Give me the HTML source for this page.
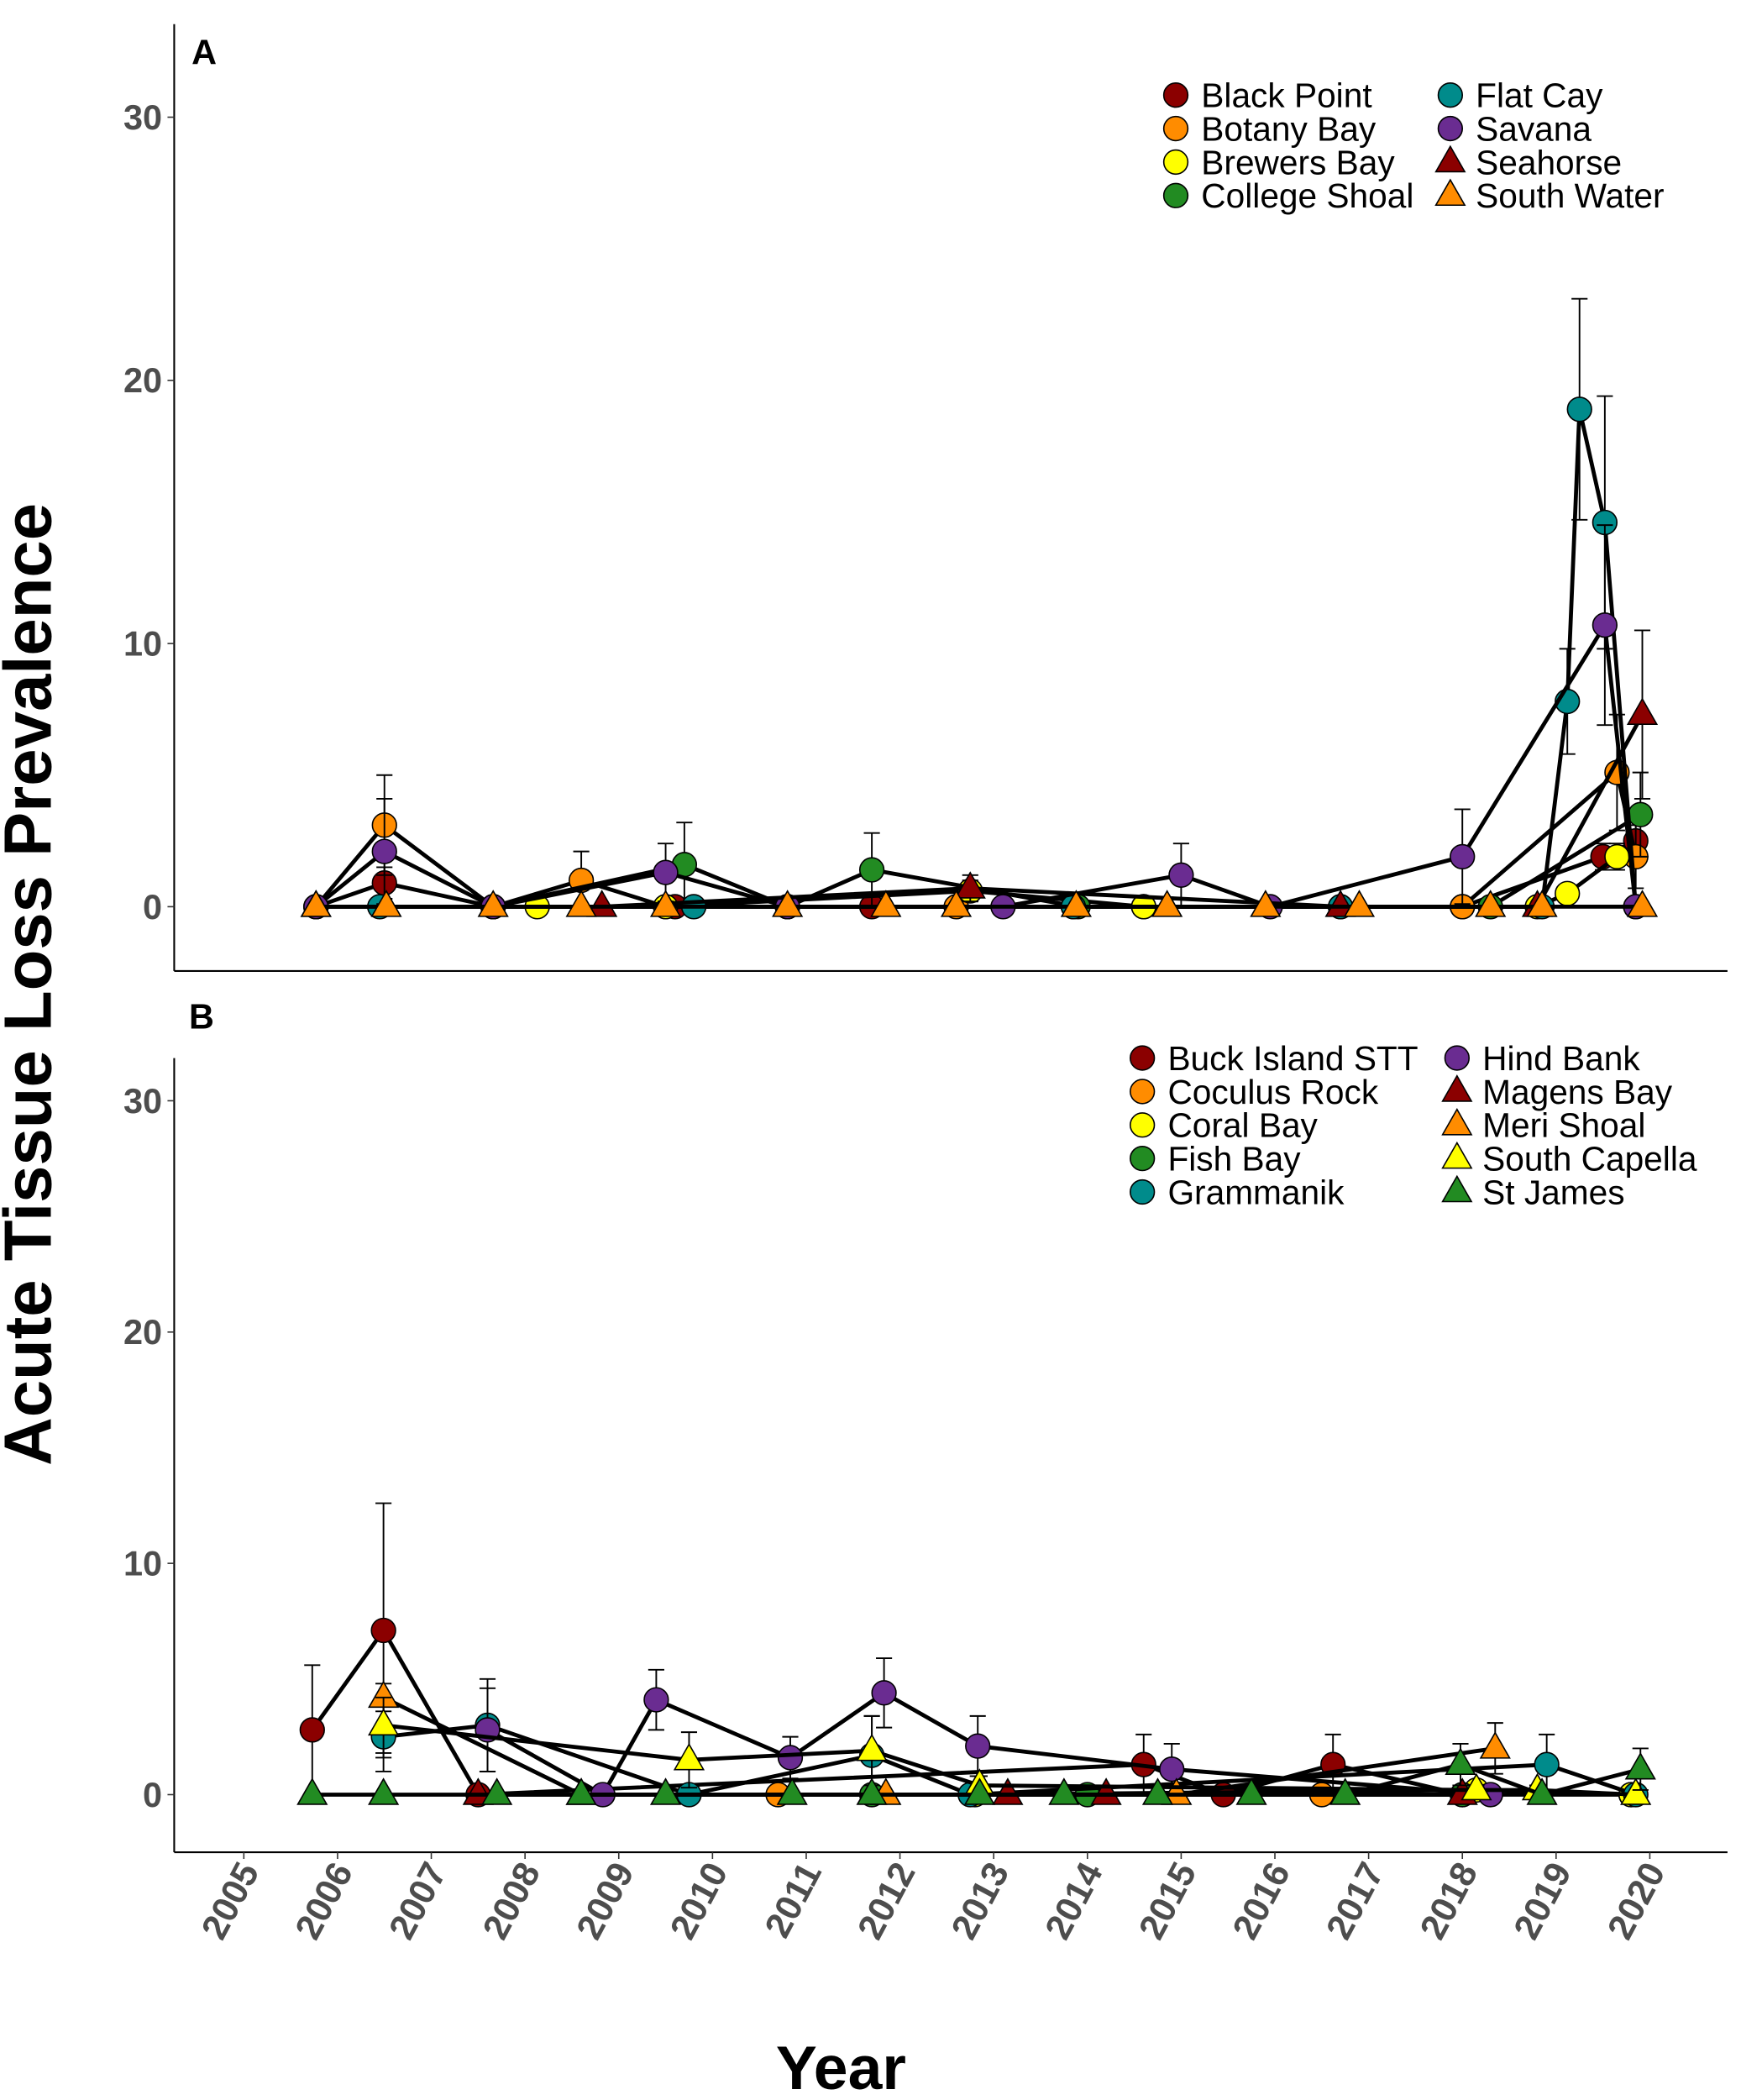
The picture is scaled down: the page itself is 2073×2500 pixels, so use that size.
<!DOCTYPE html>
<html><head><meta charset="utf-8"><style>html,body{margin:0;padding:0;background:#fff}svg{display:block}</style></head>
<body>
<svg id="chart" width="2073" height="2500" viewBox="0 0 1300 1568" xmlns="http://www.w3.org/2000/svg" font-family="Liberation Sans, sans-serif">
<rect width="1300" height="1568" fill="#fff"/>
<g id="axes"></g>
<g id="marks"></g>
<g id="legends"></g>
<text x="0" y="0" transform="translate(38,735) rotate(-90)" text-anchor="middle" font-size="50" font-weight="bold" fill="#000">Acute Tissue Loss Prevalence</text>
<text x="628" y="1560" text-anchor="middle" font-size="46" font-weight="bold" fill="#000">Year</text>
<text x="143" y="48" font-size="26" font-weight="bold">A</text>
<text x="141" y="768" font-size="26" font-weight="bold">B</text>
</svg>
<script>
const yTicks=[0,10,20,30];
const xYears=[2005,2006,2007,2008,2009,2010,2011,2012,2013,2014,2015,2016,2017,2018,2019,2020];
// Panel A sites
const sitesA=["Black Point","Botany Bay","Brewers Bay","College Shoal","Flat Cay","Savana","Seahorse","South Water"];
const colorsA=["#8b0000","#ff8c00","#ffff00","#228b22","#008b8b","#6a2c91","#8b0000","#ff8c00"];
const shapesA=["c","c","c","c","c","c","t","t"];
const blackPointYears=[2005.77,2006.5,2007.66,2009.6,2011.7,2013.85,2014.6,2016.7,2018.0,2019.5,2019.85];
const blackPointVals=[0,0.9,0,0,0,0,0,0,0,1.9,2.5];
const blackPointErr=[0,0.6,0,0,0,0,0,0,0,0.5,0.8];
const botanyYears=[2005.77,2006.5,2007.66,2008.6,2009.5,2010.8,2012.6,2018.0,2019.65,2019.85];
const botanyVals=[0,3.1,0,1.0,0,0,0,0,5.1,1.9];
const botanyErr=[0,1.9,0,1.1,0,0,0,0,2.2,1.2];
const brewersYears=[2008.13,2009.5,2012.75,2014.6,2018.8,2019.12,2019.65];
const brewersVals=[0,0,0.6,0,0,0.5,1.9];
const brewersErr=[0,0,0.4,0,0,0.3,0.5];
const collegeYears=[2005.77,2007.66,2009.7,2010.8,2011.7,2013.9,2018.3,2019.9];
const collegeVals=[0,0,1.6,0,1.4,0,0,3.5];
const collegeErr=[0,0,1.6,0,1.4,0,0,1.6];
const flatYears=[2006.45,2007.66,2009.8,2010.8,2013.85,2016.7,2018.85,2019.12,2019.25,2019.52,2019.85];
const flatVals=[0,0,0,0,0,0,0,7.8,18.9,14.6,0];
const flatErr=[0,0,0,0,0,0,0,2.0,4.2,4.8,0];
const savanaYears=[2005.77,2006.5,2007.66,2009.5,2010.8,2013.1,2015.0,2015.95,2018.0,2019.52,2019.85];
const savanaVals=[0,2.1,0,1.3,0,0,1.2,0,1.9,10.7,0];
const savanaErr=[0,2.0,0,1.1,0,0,1.2,0,1.8,3.8,0];
const seahorseYears=[2005.77,2008.82,2012.75,2016.7,2018.8,2019.92];
const seahorseVals=[0,0,0.7,0,0,7.3];
const seahorseErr=[0,0,0.5,0,0,3.2];
const southWaterYears=[2005.77,2006.52,2007.66,2008.6,2009.5,2010.8,2011.85,2012.6,2013.88,2014.85,2015.9,2016.9,2018.3,2018.85,2019.92];
const southWaterVals=[0,0,0,0,0,0,0,0,0,0,0,0,0,0,0];
const southWaterErr=[0,0,0,0,0,0,0,0,0,0,0,0,0,0,0];
// Panel B sites
const sitesB=["Buck Island STT","Coculus Rock","Coral Bay","Fish Bay","Grammanik","Hind Bank","Magens Bay","Meri Shoal","South Capella","St James"];
const colorsB=["#8b0000","#ff8c00","#ffff00","#228b22","#008b8b","#6a2c91","#8b0000","#ff8c00","#ffff00","#228b22"];
const shapesB=["c","c","c","c","c","c","t","t","t","t"];
const buckYears=[2005.73,2006.49,2007.5,2014.6,2015.45,2016.62,2018.0];
const buckVals=[2.8,7.1,0,1.3,0,1.3,0];
const buckErr=[2.8,5.5,0,1.3,0,1.3,0];
const coculusYears=[2010.7,2016.5,2019.8];
const coculusVals=[0,0,0];
const coculusErr=[0,0,0];
const coralYears=[2012.8,2018.15,2019.8];
const coralVals=[0,0.2,0];
const coralErr=[0,0.2,0];
const fishYears=[2011.7,2014.0,2018.0];
const fishVals=[0,0,0];
const fishErr=[0,0,0];
const gramYears=[2006.49,2007.6,2009.75,2011.7,2012.75,2018.9,2019.85];
const gramVals=[2.5,3.0,0,1.7,0,1.3,0];
const gramErr=[1.5,2.0,0,1.7,0,1.3,0];
const hindYears=[2007.6,2008.83,2009.4,2010.83,2011.83,2012.83,2014.9,2018.3];
const hindVals=[2.8,0,4.1,1.6,4.4,2.1,1.1,0];
const hindErr=[1.8,0,1.3,0.9,1.5,1.3,1.1,0];
const magensYears=[2007.5,2013.15,2014.2,2018.0];
const magensVals=[0,0,0,0];
const magensErr=[0,0,0,0];
const meriYears=[2006.49,2008.6,2011.85,2014.95,2018.35];
const meriVals=[4.2,0,0,0,2.0];
const meriErr=[0.6,0,0,0,1.1];
const capellaYears=[2006.49,2009.75,2011.7,2012.85,2018.15,2018.8,2019.85];
const capellaVals=[3.0,1.5,1.9,0.4,0.2,0.2,0];
const capellaErr=[1.2,1.2,1.5,0.4,0.2,0.2,0];
const stjamesYears=[2005.73,2006.49,2007.7,2008.6,2009.5,2010.85,2011.7,2012.85,2013.75,2014.75,2015.75,2016.75,2017.98,2018.85,2019.9];
const stjamesVals=[0,0,0,0,0,0,0,0,0,0,0,0,1.3,0,1.1];
const stjamesErr=[0,0,0,0,0,0,0,0,0,0,0,0,0.9,0,0.9];

const seriesA=[[blackPointYears,blackPointVals,blackPointErr],[botanyYears,botanyVals,botanyErr],[brewersYears,brewersVals,brewersErr],[collegeYears,collegeVals,collegeErr],[flatYears,flatVals,flatErr],[savanaYears,savanaVals,savanaErr],[seahorseYears,seahorseVals,seahorseErr],[southWaterYears,southWaterVals,southWaterErr]];
const seriesB=[[buckYears,buckVals,buckErr],[coculusYears,coculusVals,coculusErr],[coralYears,coralVals,coralErr],[fishYears,fishVals,fishErr],[gramYears,gramVals,gramErr],[hindYears,hindVals,hindErr],[magensYears,magensVals,magensErr],[meriYears,meriVals,meriErr],[capellaYears,capellaVals,capellaErr],[stjamesYears,stjamesVals,stjamesErr]];

const NS="http://www.w3.org/2000/svg";
function mk(tag,attrs,parent){const e=document.createElementNS(NS,tag);for(const k in attrs)e.setAttribute(k,attrs[k]);parent.appendChild(e);return e;}
const xS=y=>182+(y-2005)*70;
const panels=[
 {id:"a",top:18,bottom:725,y0:677,ppu:19.65,series:seriesA,names:sitesA,colors:colorsA,shapes:shapesA,leg:{x1:878,x2:1083,y:71,rows:4}},
 {id:"b",top:790,bottom:1383,y0:1340,ppu:17.27,series:seriesB,names:sitesB,colors:colorsB,shapes:shapesB,leg:{x1:853,x2:1088,y:790,rows:5}}
];
const axes=document.getElementById('axes'),marks=document.getElementById('marks'),legs=document.getElementById('legends');
function marker(g,shape,x,y,col,s){
 if(shape==="c") return mk('circle',{cx:x,cy:y,r:s,fill:col,stroke:"#000","stroke-width":1},g);
 return mk('polygon',{points:`${x},${y-s*1.3} ${x-s*1.2},${y+s*0.8} ${x+s*1.2},${y+s*0.8}`,fill:col,stroke:"#000","stroke-width":1},g);
}
panels.forEach(p=>{
 const yS=v=>p.y0-v*p.ppu;
 const ax=mk('g',{},axes);
 
 
 mk('line',{x1:130,y1:p.top,x2:130,y2:p.bottom,stroke:"#000","stroke-width":1.3},ax);
 mk('line',{x1:130,y1:p.bottom,x2:1290,y2:p.bottom,stroke:"#000","stroke-width":1.3},ax);
 yTicks.forEach(t=>{
  mk('line',{x1:125,y1:yS(t),x2:130,y2:yS(t),stroke:"#333","stroke-width":1},ax);
  const tx=mk('text',{x:121,y:yS(t)+9,"text-anchor":"end","font-size":26,"font-weight":"bold",fill:"#4d4d4d"},ax);
  tx.textContent=t;
  
  
 });
 if(p.id==="b"){
  xYears.forEach(yr=>{
   const x=xS(yr);
   mk('line',{x1:x,y1:p.bottom,x2:x,y2:p.bottom+5,stroke:"#333","stroke-width":1},ax);
   const tx=mk('text',{x:0,y:0,transform:`translate(${x+12},${p.bottom+14}) rotate(-62)`,"text-anchor":"end","font-size":27,"font-weight":"bold",fill:"#4d4d4d"},ax);
   tx.textContent=yr;
   
   
  });
 }
 const mg=mk('g',{},marks);
 
 
 p.series.forEach((s,i)=>{
  const [xs,vs,es]=s;
  const g=mk('g',{},mg);
  
  
  const pts=xs.map((x,j)=>xS(x)+","+yS(vs[j])).join(" ");
  mk('polyline',{points:pts,fill:"none",stroke:"#000","stroke-width":3},g);
  xs.forEach((x,j)=>{
   if(es[j]>0){
    const X=xS(x);
    mk('line',{x1:X,y1:yS(vs[j]-es[j]),x2:X,y2:yS(vs[j]+es[j]),stroke:"#000","stroke-width":1.2},g);
    mk('line',{x1:X-6,y1:yS(vs[j]+es[j]),x2:X+6,y2:yS(vs[j]+es[j]),stroke:"#000","stroke-width":1.2},g);
    mk('line',{x1:X-6,y1:yS(vs[j]-es[j]),x2:X+6,y2:yS(vs[j]-es[j]),stroke:"#000","stroke-width":1.2},g);
   }
  });
  xs.forEach((x,j)=>{
   const m=marker(g,p.shapes[i],xS(x),yS(vs[j]),p.colors[i],9);
   
   
  });
 });
 const lg=mk('g',{},legs);
 
 
 p.names.forEach((n,i)=>{
  const col=i<p.leg.rows?0:1, row=i%p.leg.rows;
  const mx=col?p.leg.x2:p.leg.x1, my=p.leg.y+row*25;
  const eg=mk('g',{},lg);
  
  
  marker(eg,p.shapes[i],mx,my,p.colors[i],9);
  const t=mk('text',{x:mx+19,y:my+9,"font-size":25.5,fill:"#000"},eg);
  t.textContent=n;
 });
});
</script>
</body></html>
